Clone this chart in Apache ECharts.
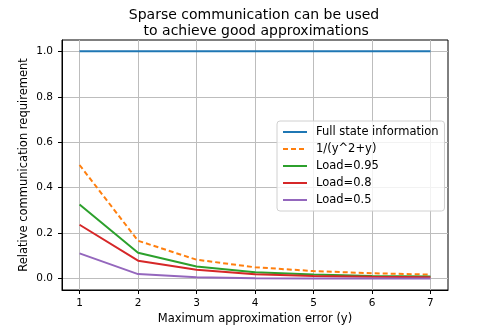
<!DOCTYPE html>
<html><head><meta charset="utf-8">
<script src="https://cdn.jsdelivr.net/npm/echarts@6/dist/echarts.min.js"></script>
<style>html,body{margin:0;padding:0;background:#fff}#c{width:498px;height:332px}</style>
</head><body><div id="c"></div>
<script>
const xValues = [1, 2, 3, 4, 5, 6, 7];
const fullState = [1, 1, 1, 1, 1, 1, 1];
const inverse = [0.5, 0.1667, 0.0833, 0.05, 0.0333, 0.0238, 0.0179];
const load095 = [0.326, 0.114, 0.053, 0.028, 0.018, 0.012, 0.009];
const load08 = [0.237, 0.079, 0.039, 0.019, 0.012, 0.008, 0.006];
const load05 = [0.111, 0.02, 0.006, 0.002, 0.001, 0.0006, 0.0004];
const xTicks = [1, 2, 3, 4, 5, 6, 7];
const yTicks = [0, 0.2, 0.4, 0.6, 0.8, 1.0];
const seriesNames = ['Full state information', '1/(y^2+y)', 'Load=0.95', 'Load=0.8', 'Load=0.5'];
const colors = ['#1f77b4', '#ff7f0e', '#2ca02c', '#d62728', '#9467bd'];
const allData = [fullState, inverse, load095, load08, load05];

const font = 'DejaVu Sans';
const chart = echarts.init(document.getElementById('c'), null, {renderer: 'canvas'});
chart.setOption({
  animation: false,
  title: {
    text: 'Sparse communication can be used\n to achieve good approximations',
    left: 249, top: 2, textAlign: 'center',
    textStyle: {fontFamily: font, fontSize: 14, fontWeight: 'normal', color: '#000', lineHeight: 16}
  },
  grid: {left: 62, right: 50, top: 40, bottom: 42, show: true, borderColor: '#000', borderWidth: 1},
  legend: {
    orient: 'vertical', left: 277, top: 121, width: 165,
    padding: [5, 6, 5, 5], itemGap: 5, itemWidth: 24, itemHeight: 12,
    backgroundColor: 'rgba(255,255,255,0.8)', borderColor: '#d0d0d0', borderWidth: 1, borderRadius: 3,
    textStyle: {fontFamily: font, fontSize: 11.5, color: '#000', padding: [0, 0, 0, 4], lineHeight: 12},
    itemStyle: {opacity: 0, borderWidth: 0},
    data: seriesNames
  },
  xAxis: {
    type: 'value', min: 0.7, max: 7.3,
    name: 'Maximum approximation error (y)', nameLocation: 'middle', nameGap: 23.5, nameMoveOverlap: false,
    nameTextStyle: {fontFamily: font, fontSize: 11.5, color: '#000'},
    axisLine: {show: true, onZero: false, lineStyle: {color: '#000', width: 1}},
    axisTick: {show: true, length: 4, customValues: xTicks, lineStyle: {color: '#000'}},
    axisLabel: {customValues: xTicks, fontFamily: font, fontSize: 10.5, color: '#000', margin: 8},
    splitLine: {show: true, lineStyle: {color: '#bdbdbd', width: 1}}
  },
  yAxis: {
    type: 'value', min: -0.05, max: 1.05,
    name: 'Relative communication requirement', nameLocation: 'middle', nameGap: 32, nameMoveOverlap: false,
    nameTextStyle: {fontFamily: font, fontSize: 11.5, color: '#000'},
    axisLine: {show: true, onZero: false, lineStyle: {color: '#000', width: 1}},
    axisTick: {show: true, length: 4, customValues: yTicks, lineStyle: {color: '#000'}},
    axisLabel: {customValues: yTicks, fontFamily: font, fontSize: 10.5, color: '#000', margin: 9,
      formatter: v => v.toFixed(1)},
    splitLine: {show: true, lineStyle: {color: '#bdbdbd', width: 1}}
  },
  series: seriesNames.map((n, i) => ({
    name: n, type: 'line', symbol: 'none', color: colors[i],
    lineStyle: {width: 2, color: colors[i], type: i === 1 ? [5, 3] : 'solid'},
    data: xValues.map((x, j) => [x, allData[i][j]])
  }))
});
</script></body></html>
